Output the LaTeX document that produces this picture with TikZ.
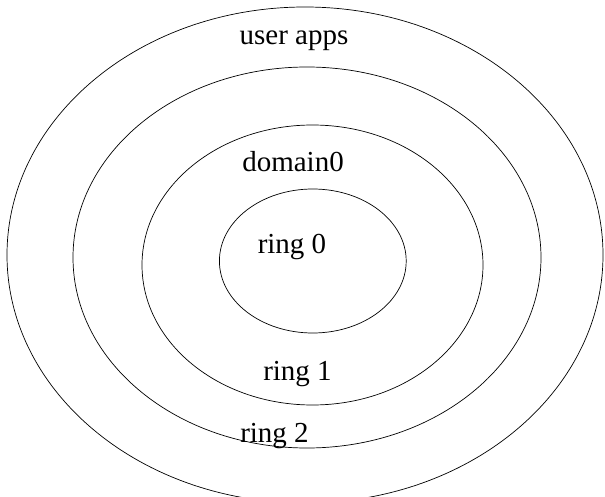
\documentclass[tikz,border=0pt]{standalone}
\usepackage{fontspec}
\setmainfont{Liberation Serif}
\begin{document}
\begin{tikzpicture}[x=1pt,y=-1pt,
  ring/.style={draw=black,line width=0.7pt},
  lbl/.style={anchor=base,inner sep=0pt,font=\fontsize{29}{34}\selectfont}]
  \useasboundingbox (0,0) rectangle (605,497);
  \clip (0,0) rectangle (605,497);
  % concentric privilege rings, outermost first
  \draw[ring] (305,255) ellipse [x radius=298, y radius=248];
  \draw[ring] (307,257.5) ellipse [x radius=234, y radius=190.5];
  \draw[ring] (312.5,265) ellipse [x radius=170.5, y radius=140];
  \draw[ring] (312.8,261) ellipse [x radius=93.4, y radius=72];
  % labels
  \node[lbl] (apps) at (294,45) {user apps};
  \node[lbl] (dom0) at (293,172) {domain0};
  \node[lbl] (r0) at (292,253) {ring 0};
  \node[lbl] (r1) at (297.5,380) {ring 1};
  \node[lbl] (r2) at (274.5,442) {ring 2};
\end{tikzpicture}
\end{document}
